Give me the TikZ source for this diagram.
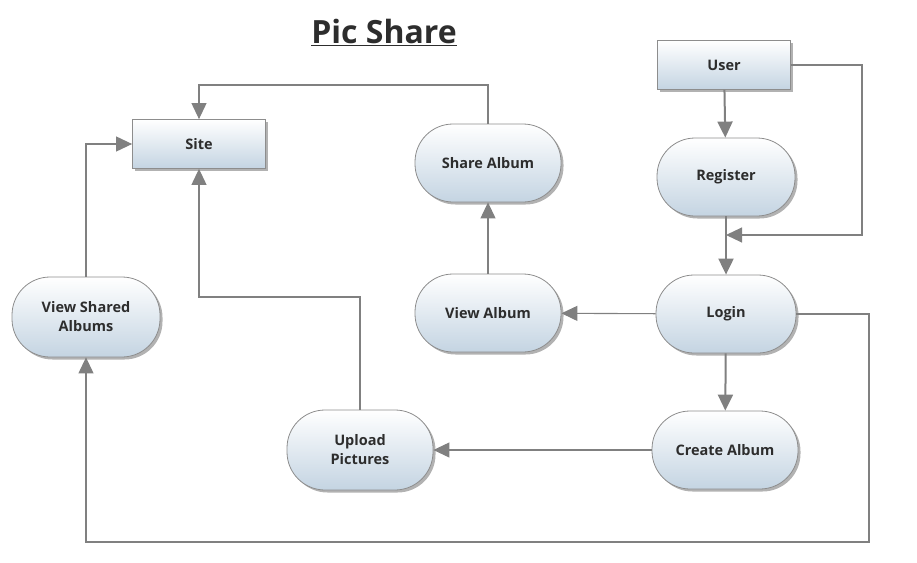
\documentclass[tikz,border=0pt]{standalone}
\usepackage{fontspec}
\setmainfont{Open Sans}
\usetikzlibrary{shadows,arrows.meta}
\definecolor{nodeblue}{RGB}{196,212,226}
\definecolor{linegray}{RGB}{128,128,128}
\definecolor{txt}{RGB}{45,45,45}
\tikzset{
  box/.style={draw=linegray!90, line width=0.8pt, top color=white, bottom color=nodeblue,
    drop shadow={shadow xshift=2.5pt, shadow yshift=-2.5pt, fill=black, opacity=0.3},
    font=\bfseries\fontsize{14.5}{19}\selectfont, text=txt, align=center, inner sep=0pt},
  rbox/.style={box, rectangle, minimum width=133pt, minimum height=49pt},
  pill/.style={box, rectangle, rounded corners=38pt, minimum width=146pt, minimum height=78pt},
  arr/.style={draw=linegray, line width=1.1pt, -{Triangle[length=16pt,width=15pt]}, fill=none},
  thick arr/.style={arr, line width=2pt}
}
\begin{document}
\begin{tikzpicture}[x=1pt,y=-1pt]
\useasboundingbox (0,0) rectangle (917,562);
\node (title) at (384,32) {\fontsize{32}{36}\bfseries\color{txt}\underline{Pic Share}};
\node[rbox] (site) at (199,144) {Site};
\node[rbox] (user) at (724,65) {User};
\node[pill] (sa) at (488,163) {Share Album};
\node[pill, minimum width=138pt] (reg) at (726,177) {Register};
\node[pill] (va) at (488,313) {View Album};
\node[pill, minimum width=140pt] (login) at (726,314) {Login};
\node[pill, minimum width=148pt, minimum height=80pt] (vsa) at (86,317) {View Shared\\Albums};
\node[pill, minimum height=80pt] (up) at (360,450) {Upload\\Pictures};
\node[pill] (ca) at (725,450) {Create Album};
\coordinate (j) at (726,235);
\coordinate (jr) at (862,235);
\coordinate (top) at (0,85);
\coordinate (mid) at (0,297);
\coordinate (br) at (869,542);
\draw[thick arr] (user) -- (reg);
\draw[arr] (user.east) -| (jr) -- (j);
\draw[thick arr] (reg) -- (login);
\draw[arr] (login) -- (va);
\draw[arr] (va) -- (sa);
\draw[arr] (sa.north) -- (sa.north |- top) -| (site.north);
\draw[thick arr] (login) -- (ca);
\draw[arr] (login.east) -| (br) -| (vsa.south);
\draw[arr] (ca) -- (up);
\draw[arr] (up.north) -- (up.north |- mid) -| (site.south);
\draw[arr] (vsa.north) |- (site.west);
\end{tikzpicture}
\end{document}
